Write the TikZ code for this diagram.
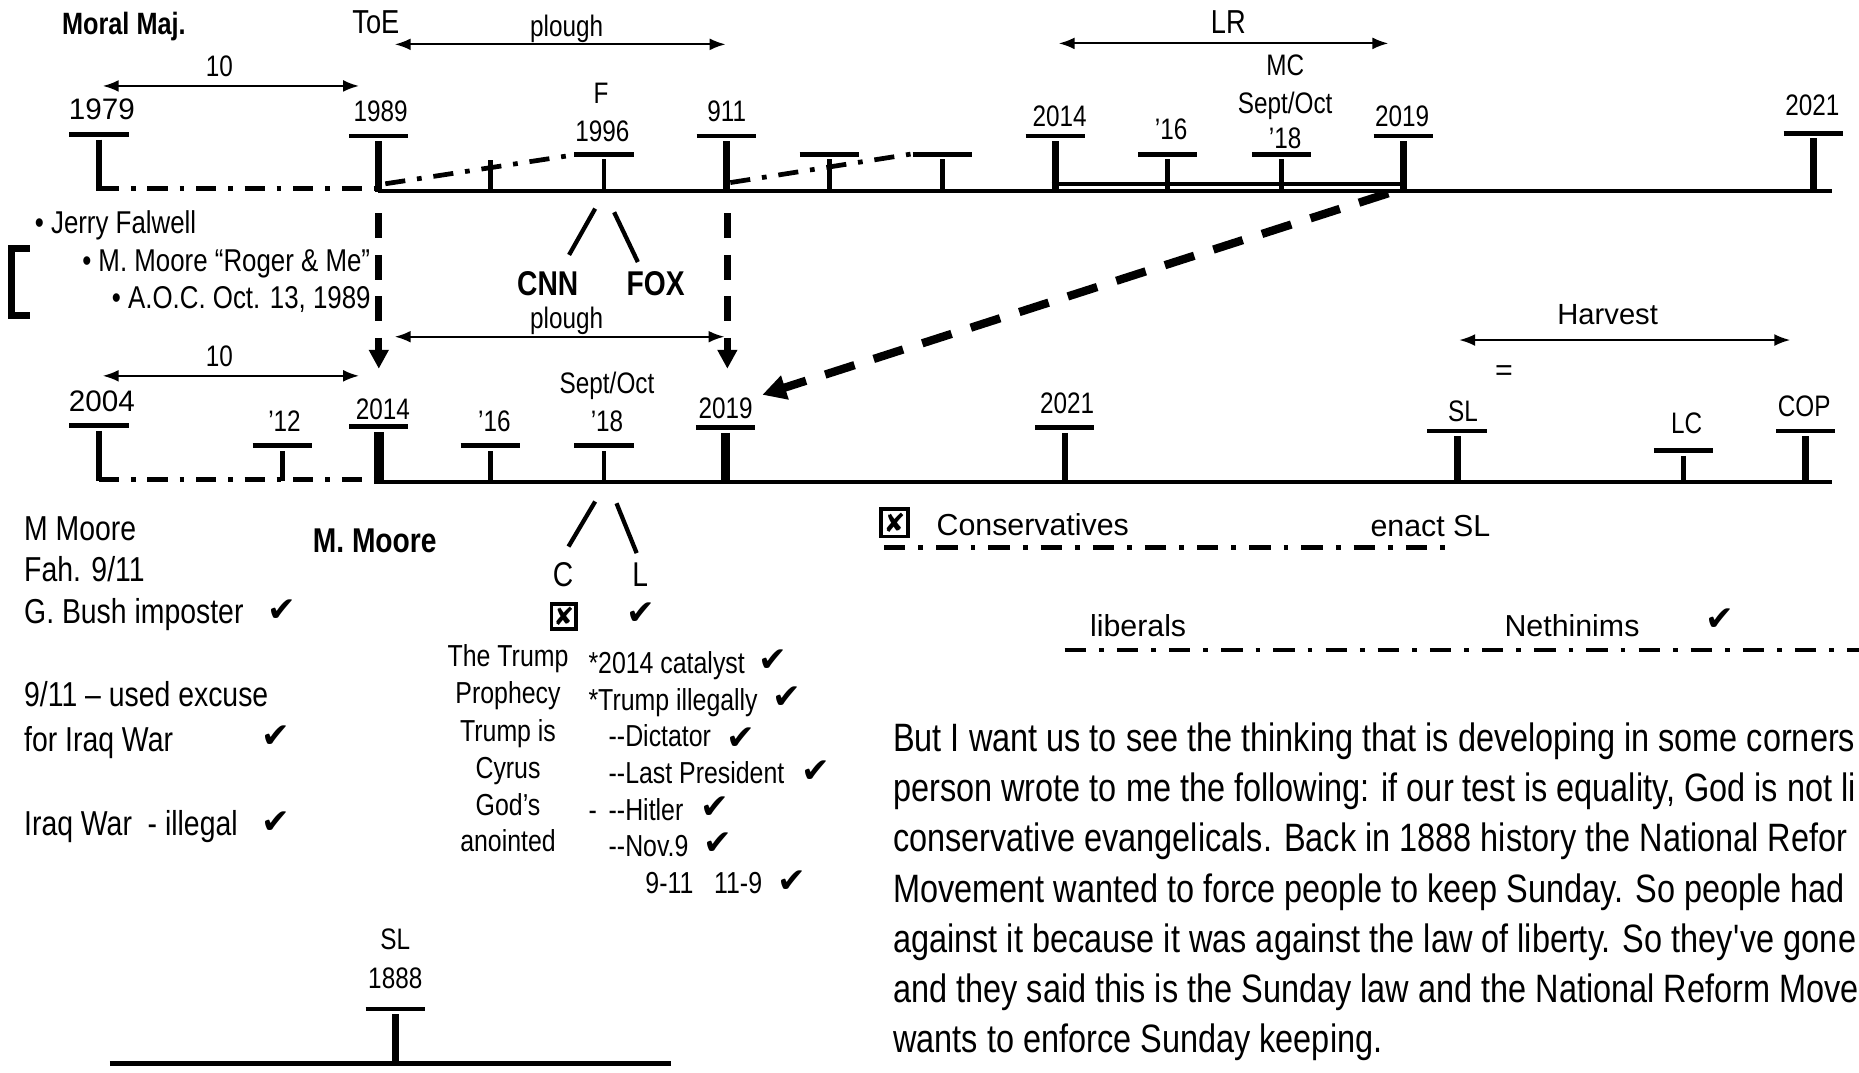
\documentclass[tikz,border=0pt]{standalone}
\usepackage{fontspec}
\setmainfont{Liberation Sans}
\newfontfamily\nar{Liberation Sans}[FakeStretch=0.82]
\newfontfamily\sym{DejaVu Sans}
\usetikzlibrary{arrows.meta}
\newcommand{\fsz}[1]{\fontsize{#1}{#1}\selectfont}
\newcommand{\tickT}[4]{\draw[bar] ({#1-25},#2) -- ({#1+25},#2); \draw[line width=#4] (#1,{#2+4.5}) -- (#1,#3);}
\begin{document}
\begin{tikzpicture}[x=0.5pt,y=-0.5pt,
  lab/.style={font=\nar\fsz{12.5}, inner sep=0pt, anchor=base},
  labl/.style={font=\nar\fsz{14}, inner sep=0pt, anchor=base},
  reg/.style={font=\fsz{12.8}, inner sep=0pt, anchor=base west},
  yr/.style={font=\fsz{12.5}, inner sep=0pt, anchor=base},
  bld/.style={font=\nar\bfseries\fsz{14.5}, inner sep=0pt, anchor=base},
  lst/.style={font=\nar\fsz{14.6}, inner sep=0pt, anchor=base west},
  bul/.style={font=\nar\fsz{13.3}, inner sep=0pt, anchor=base west},
  mid/.style={font=\nar\fsz{12.8}, inner sep=0pt, anchor=base},
  midl/.style={font=\nar\fsz{12.8}, inner sep=0pt, anchor=base west},
  para/.style={font=\nar\fsz{16.7}, inner sep=0pt, anchor=base west},
  chk/.style={font=\sym\fsz{14.5}, inner sep=0pt, anchor=center},
  xbox/.style={draw, line width=1.5pt, minimum size=10.5pt, inner sep=0pt, font=\sym\fsz{10.5}},
  tline/.style={line width=1.8pt},
  bar/.style={line width=2pt},
  ddot/.style={line width=2pt, dash pattern=on 8.5pt off 5pt on 2pt off 5pt},
  ddotb/.style={line width=2pt, dash pattern=on 9pt off 5.5pt on 2pt off 5.5pt},
  darr/.style={{Latex[length=6.7pt,width=5pt]}-{Latex[length=6.7pt,width=5pt]}, line width=0.85pt},
  vdash/.style={line width=3pt, dash pattern=on 10.5pt off 7pt, -{Triangle[length=8pt,width=8pt]}},
  bigdash/.style={line width=3.5pt, dash pattern=on 13pt off 8.5pt, -{Triangle[length=10pt,width=10pt]}},
  slash/.style={line width=1.8pt}
]
\fill[white] (0,0) rectangle (1568,905);
\useasboundingbox (0,0) rectangle (1568,905);

% ---------- Row 1 timeline ----------
\draw[tline] (319,160.8) -- (1545,160.8);
\draw[ddot] (83.4,159) -- (319,159);
\draw[line width=1.7pt] (887,155) -- (1183,155);
\tickT{83.4}{113.3}{161}{2.5pt}
\tickT{319.5}{114.7}{162}{3pt}
\draw[line width=2pt] (413.5,135) -- (413.5,161);
\tickT{509.5}{130}{161}{2pt}
\tickT{612.5}{114.7}{162}{3pt}
\tickT{699.5}{130}{161}{2pt}
\tickT{794.7}{130}{161}{2pt}
\tickT{890}{114.7}{162}{3pt}
\tickT{985}{130}{161}{2pt}
\tickT{1081}{130}{161}{2pt}
\tickT{1183.5}{114.7}{162}{3pt}
\tickT{1529.5}{112.3}{161}{3pt}
\draw[ddot] (325,155) -- (485,130.5);
\draw[ddot] (616,154) -- (768,130);

% ---------- Row 2 timeline ----------
\draw[tline] (319,406.3) -- (1545,406.3);
\draw[ddot] (83.4,404.5) -- (319,404.5);
\tickT{83.4}{359}{406}{2.5pt}
\tickT{238}{376}{406}{2pt}
\tickT{319.5}{360}{408}{4pt}
\tickT{413.5}{376}{406}{2pt}
\tickT{509.5}{376}{406}{2pt}
\tickT{612}{360.7}{408}{4pt}
\tickT{898}{360.7}{406}{2.5pt}
\tickT{1229}{363.6}{408}{3pt}
\tickT{1420}{380}{406}{2pt}
\tickT{1523}{363.6}{408}{3pt}

% ---------- bottom SL 1888 ----------
\tickT{333.4}{851}{897}{3pt}
\draw[line width=2.2pt] (92.7,897) -- (566,897);

% ---------- coordinates for connectors ----------
\coordinate (pA1) at (333,37.4);   \coordinate (pA2) at (612,37.4);
\coordinate (tA1) at (86.7,72.5);  \coordinate (tA2) at (302.8,72.5);
\coordinate (lA1) at (893,36.6);   \coordinate (lA2) at (1171,36.6);
\coordinate (pB1) at (333,284);    \coordinate (pB2) at (611,284);
\coordinate (tB1) at (86.7,317);   \coordinate (tB2) at (302.8,317);
\coordinate (hA1) at (1230.8,286.8); \coordinate (hA2) at (1510,286.8);
\coordinate (v1a) at (319.5,180);  \coordinate (v1b) at (319.5,311);
\coordinate (v2a) at (613.5,180);  \coordinate (v2b) at (613.5,311);
\coordinate (dgA) at (1171,163);   \coordinate (dgB) at (643,333);

\draw[darr] (pA1) -- (pA2);
\draw[darr] (tA1) -- (tA2);
\draw[darr] (lA1) -- (lA2);
\draw[darr] (pB1) -- (pB2);
\draw[darr] (tB1) -- (tB2);
\draw[darr] (hA1) -- (hA2);
\draw[vdash] (v1a) -- (v1b);
\draw[vdash] (v2a) -- (v2b);
\draw[bigdash] (dgA) -- (dgB);

% ---------- Row 1 labels ----------
\node[bld, font=\nar\bfseries\fsz{13}] (moral) at (104.5,29.5) {Moral Maj.};
\node[labl] (toe) at (317,28) {ToE};
\node[lab] (plough1) at (478,30.4) {plough};
\node[lab] (ten1) at (185,64.7) {10};
\node[yr] (y1979) at (86,101) {1979};
\node[lab] (y1989) at (321,102.6) {1989};
\node[lab] (f) at (507,87) {F};
\node[lab] (y1996) at (508,119.5) {1996};
\node[lab] (y911) at (613,102.6) {911};
\node[labl] (lr) at (1036,28) {LR};
\node[lab] (mc) at (1084,63.3) {MC};
\node[lab] (so1) at (1084,95.6) {Sept/Oct};
\node[lab] (e18a) at (1084,125.1) {’18};
\node[lab] (y2014a) at (893.7,106.8) {2014};
\node[lab] (s16a) at (987.8,118) {’16};
\node[lab] (y2019a) at (1182.6,106.8) {2019};
\node[lab] (y2021a) at (1528.6,97) {2021};

% bullets and bracket
\node[bul] (jf) at (29,197) {• Jerry Falwell};
\node[bul] (mm) at (69,229) {• M. Moore “Roger \& Me”};
\node[bul] (aoc) at (94,260) {• A.O.C. Oct. 13, 1989};
\draw[line width=3pt] (25,209.6) -- (10,209.6) -- (10,265.8) -- (25,265.8);

% CNN / FOX
\coordinate (s1a) at (502,176); \coordinate (s1b) at (480,215);
\coordinate (s2a) at (518,179); \coordinate (s2b) at (538,221);
\draw[slash] (s1a) -- (s1b);
\draw[slash] (s2a) -- (s2b);
\node[bld] (cnn) at (462,249) {CNN};
\node[bld] (fox) at (553,249) {FOX};
\node[lab] (plough2) at (478,277) {plough};
\node[lab] (ten2) at (185,309.5) {10};

% ---------- Row 2 labels ----------
\node[yr] (y2004) at (86,347) {2004};
\node[lab] (s12) at (240,364) {’12};
\node[lab] (y2014b) at (323,353.6) {2014};
\node[lab] (s16b) at (417,364) {’16};
\node[lab] (so2) at (512,331.8) {Sept/Oct};
\node[lab] (e18b) at (512,364) {’18};
\node[lab] (y2019b) at (612,352.9) {2019};
\node[lab] (y2021b) at (900,348.6) {2021};
\node[font=\fsz{12.3}, inner sep=0pt, anchor=base] (harv) at (1356,274) {Harvest};
\node[font=\fsz{12.8}, inner sep=0pt] (eq) at (1268.6,314.8) {=};
\node[lab] (sl) at (1234,355.7) {SL};
\node[lab] (lc) at (1422.7,365.4) {LC};
\node[lab] (cop) at (1521.8,351.5) {COP};

% ---------- left notes ----------
\node[lst] (n1) at (20,455.5) {M Moore};
\node[lst] (n2) at (20,490.6) {Fah. 9/11};
\node[lst] (n3) at (20,525.8) {G. Bush imposter};
\node[lst] (n4) at (20,596) {9/11 – used excuse};
\node[lst] (n5) at (20,634) {for Iraq War};
\node[lst] (n6) at (20,704.3) {Iraq War\ \ - illegal};
\node[chk] (c1) at (238,515) {✔};
\node[chk] (c2) at (232.5,621) {✔};
\node[chk] (c3) at (233,693.5) {✔};
\node[bld, anchor=base west] (mm2) at (263.5,466) {M. Moore};

% C / L
\coordinate (s3a) at (502,423); \coordinate (s3b) at (479.5,461);
\coordinate (s4a) at (520,424.5); \coordinate (s4b) at (537,466.5);
\draw[slash] (s3a) -- (s3b);
\draw[slash] (s4a) -- (s4b);
\node[lab, font=\nar\fsz{14.5}] (cc) at (475,495) {C};
\node[lab, font=\nar\fsz{14.5}] (ll) at (540,495) {L};
\node[xbox] (xb1) at (475.5,519.8) {✘};
\node[chk] (c4) at (540.5,517.4) {✔};

% center block
\node[mid] (t1) at (428.5,562.3) {The Trump};
\node[mid] (t2) at (428.5,593.3) {Prophecy};
\node[mid] (t3) at (428.5,625.6) {Trump is};
\node[mid] (t4) at (428.5,656.5) {Cyrus};
\node[mid] (t5) at (428.5,687.5) {God’s};
\node[mid] (t6) at (428.5,718.4) {anointed};

\node[midl] (r1) at (496,568) {*2014 catalyst};
\node[midl] (r2) at (496,599) {*Trump illegally};
\node[midl] (r3) at (513,629.8) {-{}-Dictator};
\node[midl] (r4) at (513,660.7) {-{}-Last President};
\node[midl] (r5d) at (496,691.7) {-};
\node[midl] (r5) at (513,691.7) {-{}-Hitler};
\node[midl] (r6) at (513,722.6) {-{}-Nov.9};
\node[midl] (r7) at (544,753.5) {9-11\ \ \ 11-9};
\node[chk] (c5) at (652,557) {✔};
\node[chk] (c6) at (664,588.5) {✔};
\node[chk] (c7) at (624.5,622.8) {✔};
\node[chk] (c8) at (688,651) {✔};
\node[chk] (c9) at (603,681) {✔};
\node[chk] (c10) at (605.5,712) {✔};
\node[chk] (c11) at (668,743.6) {✔};

% bottom SL
\node[lab] (sl2) at (333.4,801) {SL};
\node[lab] (y1888) at (333.4,833.6) {1888};

% ---------- right notes ----------
\node[xbox, minimum size=11.5pt, font=\sym\fsz{11}] (xb2) at (754.5,441) {✘};
\node[reg] (cons) at (789.6,452) {Conservatives};
\node[reg] (enact) at (1155.6,452.7) {enact SL};
\draw[ddotb] (745.7,462) -- (1224,462);
\node[reg] (lib) at (919,536.5) {liberals};
\node[reg] (neth) at (1268.6,536.5) {Nethinims};
\node[chk] (c12) at (1451,523) {✔};
\draw[ddotb] (898,548.3) -- (1575,548.3);

% ---------- paragraph ----------
\node[para] (p1) at (753,634) {But I want us to see the thinking that is developing in some corners};
\node[para] (p2) at (753,676.3) {person wrote to me the following: if our test is equality, God is not li};
\node[para] (p3) at (753,718.6) {conservative evangelicals. Back in 1888 history the National Refor};
\node[para] (p4) at (753,760.9) {Movement wanted to force people to keep Sunday. So people had};
\node[para] (p5) at (753,803.2) {against it because it was against the law of liberty. So they\textquotesingle ve gone};
\node[para] (p6) at (753,845.5) {and they said this is the Sunday law and the National Reform Move};
\node[para] (p7) at (753,887.8) {wants to enforce Sunday keeping.};
\end{tikzpicture}
\end{document}
